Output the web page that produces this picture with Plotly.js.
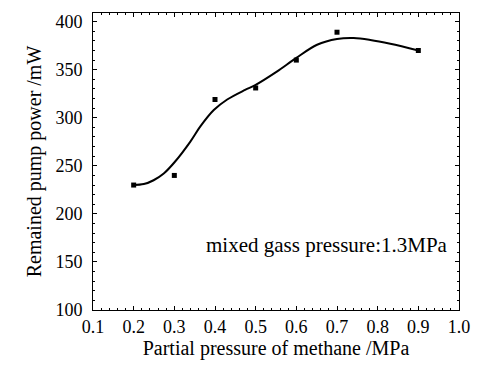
<!DOCTYPE html>
<html>
<head>
<meta charset="utf-8">
<script src="https://cdn.plot.ly/plotly-3.0.1.min.js"></script>
<style>html,body{margin:0;padding:0;background:#fff;}#chart{width:478px;height:369px;}</style>
</head>
<body>
<div id="chart"></div>
<script>
// Measured data points
const pressureX = [0.2, 0.3, 0.4, 0.5, 0.6, 0.7, 0.9];
const powerY = [230, 240, 319, 331, 360, 389, 370];
// Fitted curve
const curveX = [0.2, 0.225, 0.249, 0.274, 0.302, 0.339, 0.364, 0.397, 0.43, 0.474, 0.499, 0.552, 0.599, 0.651, 0.7, 0.741, 0.782, 0.831, 0.9];
const curveY = [230, 231, 235, 242, 254.5, 275, 291, 308, 319, 329, 334, 348, 362, 376, 382, 383, 381, 377, 370];
const xTicks = [0.1, 0.2, 0.3, 0.4, 0.5, 0.6, 0.7, 0.8, 0.9, 1.0];
const xTickText = ['0.1', '0.2', '0.3', '0.4', '0.5', '0.6', '0.7', '0.8', '0.9', '1.0'];
const yTicks = [100, 150, 200, 250, 300, 350, 400];

const font = {family: '"Liberation Serif", "Times New Roman", serif', color: '#000'};

const traces = [
  {x: curveX, y: curveY, mode: 'lines', line: {color: '#000', width: 2, shape: 'spline', smoothing: 1}, hoverinfo: 'skip'},
  {x: pressureX, y: powerY, mode: 'markers', marker: {symbol: 'square', size: 5, color: '#000'}}
];

const axisCommon = {
  showgrid: false, zeroline: false, showline: true, linecolor: '#000', linewidth: 1, mirror: 'ticks',
  ticks: 'inside', ticklen: 4, tickcolor: '#000', tickwidth: 1,
  tickfont: Object.assign({size: 18}, font)
};

const layout = {
  width: 478, height: 369,
  margin: {l: 93, r: 19, t: 13, b: 59},
  paper_bgcolor: '#fff', plot_bgcolor: '#fff',
  showlegend: false,
  font: font,
  xaxis: Object.assign({}, axisCommon, {
    range: [0.1, 1.0], tickvals: xTicks, ticktext: xTickText,
    minor: {dtick: 0.02, ticks: 'inside', ticklen: 2, tickcolor: '#000'},
    title: {text: 'Partial pressure of methane /MPa', font: Object.assign({size: 20}, font), standoff: 2}
  }),
  yaxis: Object.assign({}, axisCommon, {
    range: [100, 409], tickvals: yTicks, ticklabelstandoff: 6,
    minor: {dtick: 10, ticks: 'inside', ticklen: 2, tickcolor: '#000'},
    title: {text: 'Remained pump power /mW', font: Object.assign({size: 20}, font), standoff: 8}
  }),
  annotations: [{
    xref: 'paper', yref: 'paper', x: 0.975, y: 0.22, xanchor: 'right', yanchor: 'middle',
    text: 'mixed gass pressure:1.3MPa', showarrow: false, font: Object.assign({size: 21}, font)
  }]
};

Plotly.newPlot('chart', traces, layout, {displayModeBar: false, staticPlot: true});
</script>
</body>
</html>
